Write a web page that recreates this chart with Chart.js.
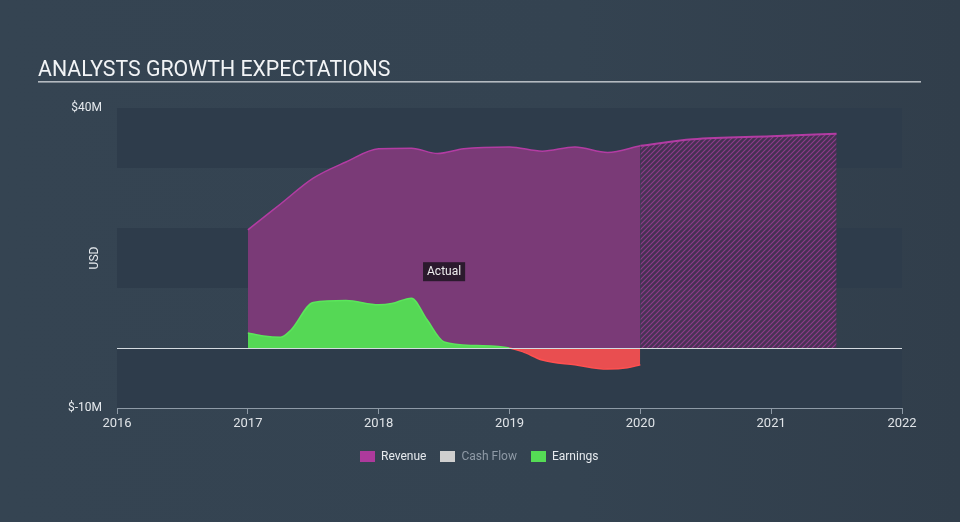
<!DOCTYPE html>
<html>
<head>
<meta charset="utf-8">
<script src="https://cdn.jsdelivr.net/npm/chart.js@4"></script>
<style>
  html, body { margin: 0; padding: 0; }
  body {
    width: 960px; height: 522px; overflow: hidden; position: relative;
    background: linear-gradient(90deg, #354452 0%, #344351 60%, #313e4b 100%);
    font-family: Roboto, "Noto Sans", sans-serif;
  }
  #chart { position: absolute; left: 0; top: 0; }
  .legend { position: absolute; top: 449px; left: 360px; display: flex; font-size: 12px; color: #e6eaee; }
  .legend span.item { display: flex; align-items: center; margin-right: 14px; }
  .legend i { display: inline-block; width: 15px; height: 11px; margin-right: 6px; }
</style>
</head>
<body>
<canvas id="chart" width="960" height="522"></canvas>
<div class="legend">
  <span class="item"><i style="background:#ad3a9c"></i>Revenue</span>
  <span class="item" style="color:#8f9aa6"><i style="background:#cfcfcf"></i>Cash Flow</span>
  <span class="item"><i style="background:#55dc55"></i>Earnings</span>
</div>
<script>
const yearTicks = [2016, 2017, 2018, 2019, 2020, 2021, 2022];
const valueTicks = [40, -10];

const revenueYears = [2017.0, 2017.25, 2017.5, 2017.75, 2018.0, 2018.25, 2018.45, 2018.65, 2019.0, 2019.25, 2019.5, 2019.75, 2020.0];
const revenueValues = [19.7, 24.0, 28.3, 31.0, 33.2, 33.3, 32.4, 33.2, 33.5, 32.8, 33.5, 32.6, 33.7];

const forecastYears = [2020.0, 2020.4, 2021.0, 2021.5];
const forecastValues = [33.7, 34.8, 35.3, 35.7];

const earningsYears = [2017.0, 2017.12, 2017.25, 2017.33, 2017.5, 2017.75, 2018.0, 2018.1, 2018.25, 2018.37, 2018.5, 2018.75, 2019.0, 2019.1, 2019.25, 2019.5, 2019.75, 2019.9, 2020.0];
const earningsValues = [2.5, 2.0, 1.8, 3.0, 7.6, 7.9, 7.2, 7.4, 8.3, 4.7, 1.0, 0.4, 0.0, -0.6, -2.0, -2.8, -3.5, -3.3, -2.8];

const bandColor = '#2e3c4b';

function points(xs, ys) {
  return xs.map((x, i) => ({ x: x, y: ys[i] }));
}

function hatch() {
  const c = document.createElement('canvas');
  c.width = 5; c.height = 5;
  const g = c.getContext('2d');
  g.fillStyle = 'rgba(90, 40, 90, 0.55)';
  g.fillRect(0, 0, 5, 5);
  g.strokeStyle = '#8e3c8a';
  g.lineWidth = 1.2;
  g.beginPath();
  g.moveTo(0, 5); g.lineTo(5, 0);
  g.moveTo(-2.5, 2.5); g.lineTo(2.5, -2.5);
  g.moveTo(2.5, 7.5); g.lineTo(7.5, 2.5);
  g.stroke();
  return g.createPattern(c, 'repeat');
}

const backdrop = {
  id: 'backdrop',
  beforeDatasetsDraw(chart) {
    const { ctx, chartArea, scales } = chart;
    const y = scales.y;
    ctx.save();
    ctx.fillStyle = bandColor;
    for (let v = 40; v > -10; v -= 20) {
      const top = y.getPixelForValue(v);
      const bottom = y.getPixelForValue(v - 10);
      ctx.fillRect(chartArea.left, top, chartArea.right - chartArea.left, bottom - top);
    }
    const t = y.getPixelForValue(-10);
    ctx.fillRect(chartArea.left, y.getPixelForValue(0), chartArea.right - chartArea.left, t - y.getPixelForValue(0));
    ctx.restore();
  },
  afterDatasetsDraw(chart) {
    const { ctx, chartArea, scales } = chart;
    const zero = Math.round(scales.y.getPixelForValue(0)) + 0.5;
    ctx.save();
    ctx.strokeStyle = '#d5dbe0';
    ctx.lineWidth = 1.2;
    ctx.beginPath();
    ctx.moveTo(chartArea.left, zero);
    ctx.lineTo(chartArea.right, zero);
    ctx.stroke();

    // "Actual" tag
    const ax = scales.x.getPixelForValue(2018.5);
    const ay = scales.y.getPixelForValue(12.8);
    ctx.font = '12px Roboto';
    const w = ctx.measureText('Actual').width + 8;
    ctx.fillStyle = '#2b1a2d';
    ctx.fillRect(ax - w / 2, ay - 9, w, 19);
    ctx.fillStyle = '#eeeeee';
    ctx.textAlign = 'center';
    ctx.textBaseline = 'middle';
    ctx.fillText('Actual', ax, ay + 1);
    ctx.restore();
  },
  afterDraw(chart) {
    const { ctx, scales } = chart;
    ctx.save();
    ctx.fillStyle = '#f2f4f6';
    ctx.font = '21.3px Roboto';
    ctx.textBaseline = 'alphabetic';
    ctx.fillText('ANALYSTS GROWTH EXPECTATIONS', 38, 76);
    ctx.fillStyle = '#b4bac0';
    ctx.fillRect(38, 81, 883, 1.6);

    ctx.translate(95, scales.y.getPixelForValue(15));
    ctx.rotate(-Math.PI / 2);
    ctx.font = '12px Roboto';
    ctx.fillStyle = '#e6eaee';
    ctx.textAlign = 'center';
    ctx.textBaseline = 'middle';
    ctx.fillText('USD', 0, 0);
    ctx.restore();
  }
};

new Chart(document.getElementById('chart'), {
  type: 'line',
  data: {
    datasets: [
      {
        label: 'Earnings',
        data: points(earningsYears, earningsValues),
        borderWidth: 1.5,
        borderColor: '#5be65b',
        segment: {
          borderColor: c => (c.p0.parsed.y <= 0 && c.p1.parsed.y <= 0) ? '#ff5050' : '#5be65b'
        },
        fill: { target: 'origin', above: '#55d855', below: '#e94e50' },
        pointRadius: 0,
        cubicInterpolationMode: 'monotone'
      },
      {
        label: 'Revenue',
        data: points(revenueYears, revenueValues),
        borderWidth: 1.5,
        borderColor: '#b33ca3',
        backgroundColor: '#7a3a77',
        fill: 'origin',
        pointRadius: 0,
        cubicInterpolationMode: 'monotone'
      },
      {
        label: 'Revenue forecast',
        data: points(forecastYears, forecastValues),
        borderWidth: 2,
        borderColor: '#b33ca3',
        backgroundColor: hatch(),
        fill: 'origin',
        pointRadius: 0,
        cubicInterpolationMode: 'monotone'
      }
    ]
  },
  options: {
    responsive: false,
    animation: false,
    devicePixelRatio: 1,
    layout: { padding: { top: 108, right: 58, left: 0, bottom: 0 } },
    plugins: { legend: { display: false }, tooltip: { enabled: false } },
    scales: {
      x: {
        type: 'linear',
        min: 2016,
        max: 2022,
        afterBuildTicks: s => { s.ticks = yearTicks.map(v => ({ value: v })); },
        afterFit: s => { s.height = 114; },
        border: { display: true, color: '#8e9aa6', width: 1 },
        grid: { drawOnChartArea: false, drawTicks: true, tickLength: 6, color: '#8e9aa6' },
        ticks: { color: '#dfe3e7', font: { family: 'Roboto', size: 13 }, padding: 2, maxRotation: 0, callback: v => String(v) }
      },
      y: {
        min: -10,
        max: 40,
        afterBuildTicks: s => { s.ticks = valueTicks.map(v => ({ value: v })); },
        afterFit: s => { s.width = 117; },
        border: { display: false },
        grid: { display: false },
        ticks: { color: '#e6eaee', font: { family: 'Roboto', size: 12 }, padding: 7, callback: v => '$' + v + 'M' }
      }
    }
  },
  plugins: [backdrop]
});
</script>
</body>
</html>
